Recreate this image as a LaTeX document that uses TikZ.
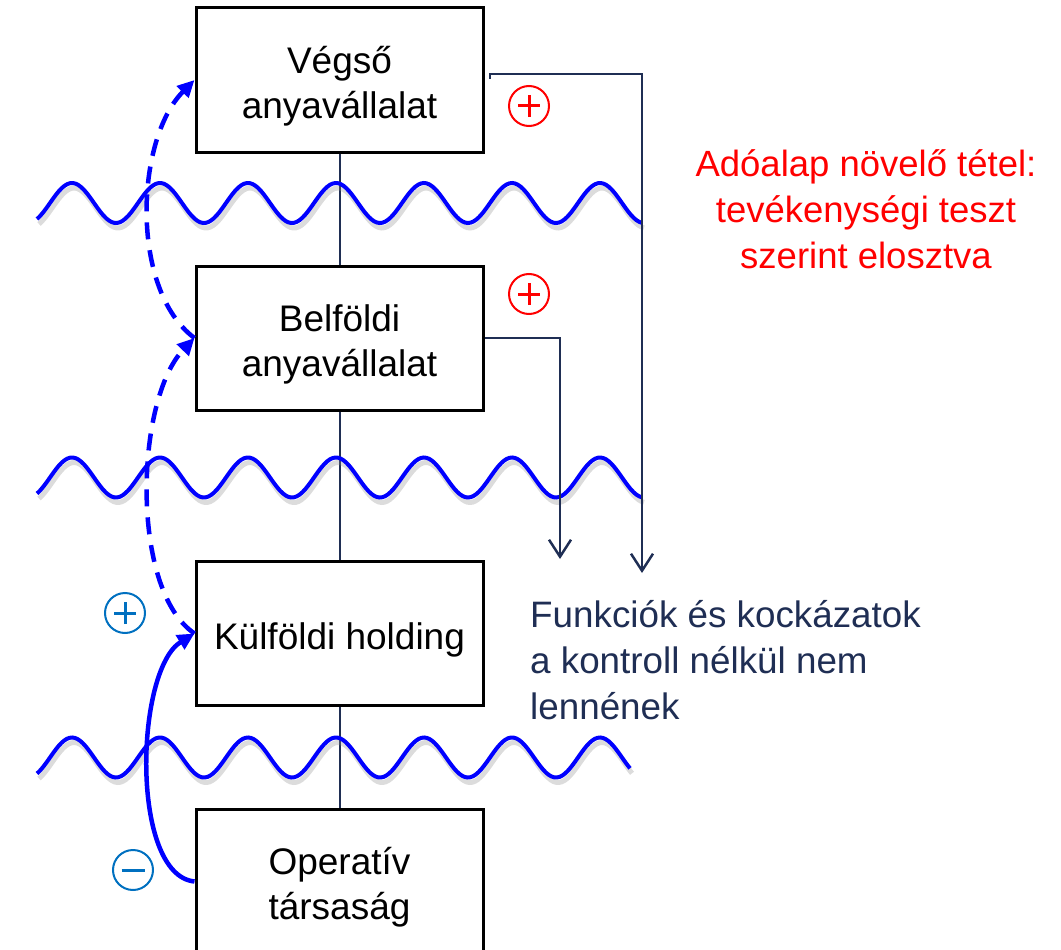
\documentclass[tikz,border=0pt]{standalone}
\usepackage{fontspec}
\setmainfont{Liberation Sans}
\usetikzlibrary{arrows.meta}
\definecolor{navy}{RGB}{31,46,84}
\definecolor{wblue}{RGB}{0,0,255}
\definecolor{cblue}{RGB}{0,112,192}
\definecolor{sred}{RGB}{255,0,0}
\tikzset{
  box/.style={draw=black, line width=3pt, minimum width=287pt, minimum height=144pt, inner sep=0pt},
  boxtext/.style={align=center, inner sep=0pt, yshift=-6pt, font=\fontsize{37}{45}\selectfont},
  link/.style={draw=navy, line width=2pt},
  flow/.style={draw=navy, line width=2.5pt, -{Straight Barb[length=17pt,width=22pt,line width=2.5pt]}},
  wave/.style={draw=wblue, line width=4pt},
  waveshadow/.style={draw=black!45, line width=5pt, opacity=0.3},
  dcurve/.style={draw=wblue, line width=4.5pt, dash pattern=on 17pt off 11pt, -{Triangle[length=17pt,width=16pt]}},
  scurve/.style={draw=wblue, line width=4.5pt, -{Triangle[length=17pt,width=16pt]}},
  sign/.style={circle, draw=#1, line width=2pt, minimum size=40pt, inner sep=0pt},
  plussign/.style={sign=#1, path picture={
    \draw[#1, line width=3pt] ([xshift=-11pt]path picture bounding box.center) -- ([xshift=11pt]path picture bounding box.center)
      ([yshift=-11pt]path picture bounding box.center) -- ([yshift=11pt]path picture bounding box.center);}},
  minussign/.style={sign=#1, path picture={
    \draw[#1, line width=3pt] ([xshift=-11.5pt]path picture bounding box.center) -- ([xshift=11.5pt]path picture bounding box.center);}},
  txt/.style={inner sep=0pt}
}
\begin{document}
\begin{tikzpicture}[x=1pt,y=-1pt]
\useasboundingbox (0,0) rectangle (1061,950);
\clip (0,0) rectangle (1061,950);

% boxes
\node[box, label={[boxtext]center:{Végső\\anyavállalat}}] (b1) at (339.5,80) {};
\node[box, label={[boxtext]center:{Belföldi\\anyavállalat}}] (b2) at (339.5,338) {};
\node[box, label={[boxtext]center:{Külföldi holding}}] (b3) at (339.5,633.5) {};
\node[box, label={[boxtext]center:{Operatív\\társaság}}] (b4) at (339.5,881.5) {};

% vertical links
\draw[link] (b1.south) -- (b2.north);
\draw[link] (b2.south) -- (b3.north);
\draw[link] (b3.south) -- (b4.north);

% waves
\foreach \c/\e in {203/642, 477.5/642, 757.5/630}{
  \draw[waveshadow] plot[domain=37:\e, samples=220, smooth] ({\x+2}, {\c+5 - 20*cos((\x-72)*4.0909)});
  \draw[wave] plot[domain=37:\e, samples=220, smooth] (\x, {\c - 20*cos((\x-72)*4.0909)});
}

% navy flows
\coordinate (s1) at (490,74);
\coordinate (e1) at (642,573);
\coordinate (e2) at (560,559);
\draw[flow] ([yshift=-5pt]s1) -- (s1) -- (s1 -| e1) -- (e1);
\draw[flow] (b2.east) -- (b2.east -| e2) -- (e2);

% blue curves
\draw[dcurve] (b2.west) .. controls (130,290) and (135,140) .. (b1.west);
\draw[dcurve] (b3.west) .. controls (130,590) and (135,400) .. (b2.west);
\draw[scurve] (b4.west) .. controls (130,875) and (135,670) .. (b3.west);

% signs
\node[plussign=sred] (p1) at (529,106) {};
\node[plussign=sred] (p2) at (529,294) {};
\node[plussign=cblue] (p3) at (125,613) {};
\node[minussign=cblue] (m1) at (133,870) {};

% texts
\node[txt, text=sred, align=center, font=\fontsize{36.5}{46}\selectfont] (t1) at (866,209.5) {Adóalap növelő tétel:\\tevékenységi teszt\\szerint elosztva};
\node[txt, text=navy, align=left, anchor=west, font=\fontsize{36.8}{46}\selectfont] (t2) at (530,660.5) {Funkciók és kockázatok\\a kontroll nélkül nem\\lennének};
\end{tikzpicture}
\end{document}
